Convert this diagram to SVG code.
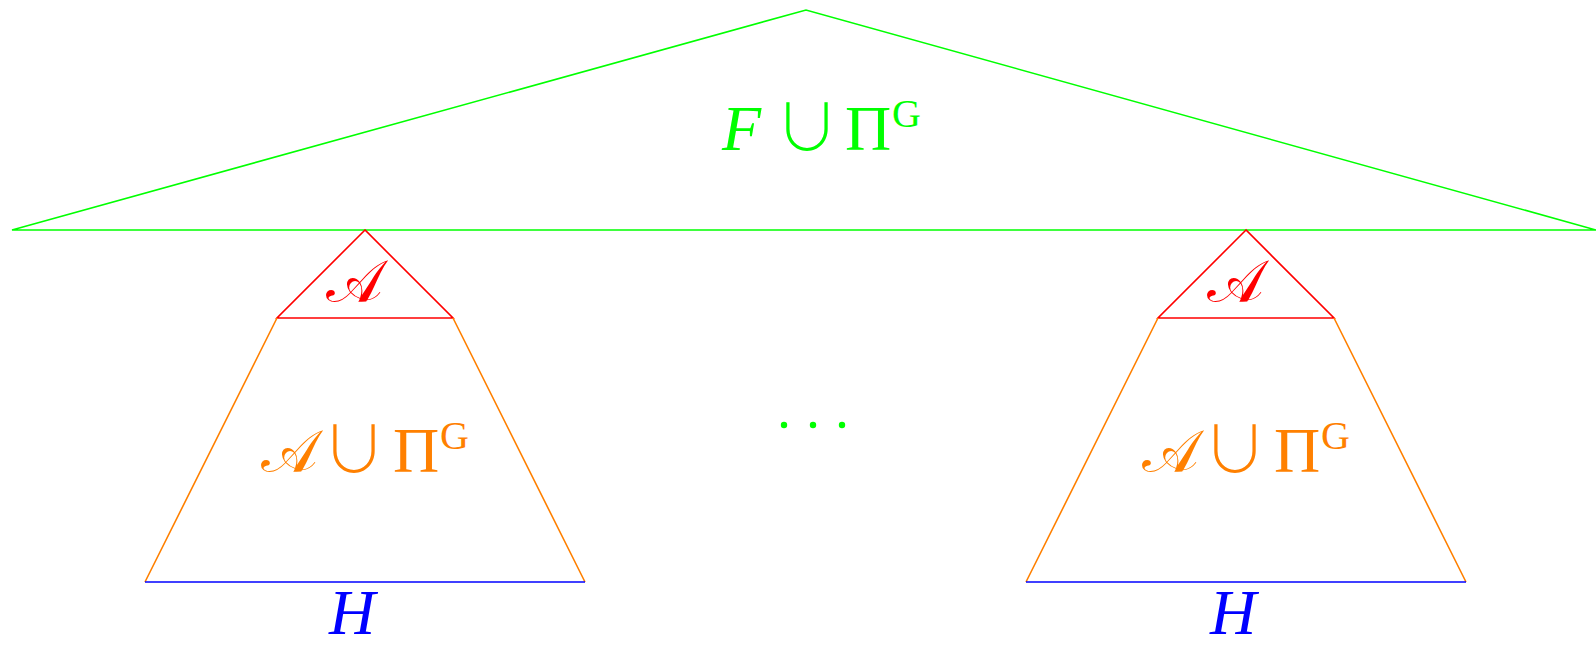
<svg xmlns="http://www.w3.org/2000/svg" width="1596" height="647" viewBox="0 0 1596 647">
<style>
.g{fill:none;stroke:#00ff00;stroke-width:1.6}
.r{fill:none;stroke:#ff0000;stroke-width:1.6}
.o{fill:none;stroke:#ff8000;stroke-width:1.6}
.b{fill:none;stroke:#0000ff;stroke-width:1.6}
text{font-family:"Liberation Serif","DejaVu Serif",serif;font-size:64px}
.it{font-style:italic}
.sup{font-size:40px}
.cup{font-family:"Noto Sans CJK JP","DejaVu Sans",sans-serif;font-weight:300;font-size:64px}
.cal{font-family:"DejaVu Serif","Noto Sans","Liberation Serif",serif;font-style:normal;font-size:60px}
</style>
<rect width="1596" height="647" fill="#fff"/>
<g id="top">
<polygon class="g" points="12,230 806,10 1596,230"/>
<text x="722" y="150" fill="#00ff00"><tspan class="it">F</tspan><tspan class="cup" x="775">∪</tspan><tspan x="845">Π</tspan><tspan class="sup" x="892" y="127">G</tspan></text>
</g>
<g id="left">
<polygon class="r" points="365,230 277,318 453,318"/>
<path class="o" d="M277,318 L145,582 M453,318 L585,582"/>
<line class="b" x1="145" y1="582" x2="585" y2="582"/>
<text class="cal" x="326" y="302" fill="#ff0000">𝒜</text>
<text x="261" y="472" fill="#ff8000"><tspan class="cal">𝒜</tspan><tspan class="cup" x="322">∪</tspan><tspan x="393">Π</tspan><tspan class="sup" x="440" y="449">G</tspan></text>
<text class="it" x="329" y="634" fill="#0000ff">H</text>
</g>
<g id="dots" fill="#00ff00">
<circle cx="784" cy="425" r="3.2"/><circle cx="813" cy="425" r="3.2"/><circle cx="842" cy="425" r="3.2"/>
</g>
<g id="right" transform="translate(881,0)">
<polygon class="r" points="365,230 277,318 453,318"/>
<path class="o" d="M277,318 L145,582 M453,318 L585,582"/>
<line class="b" x1="145" y1="582" x2="585" y2="582"/>
<text class="cal" x="326" y="302" fill="#ff0000">𝒜</text>
<text x="261" y="472" fill="#ff8000"><tspan class="cal">𝒜</tspan><tspan class="cup" x="322">∪</tspan><tspan x="393">Π</tspan><tspan class="sup" x="440" y="449">G</tspan></text>
<text class="it" x="329" y="634" fill="#0000ff">H</text>
</g>
</svg>
